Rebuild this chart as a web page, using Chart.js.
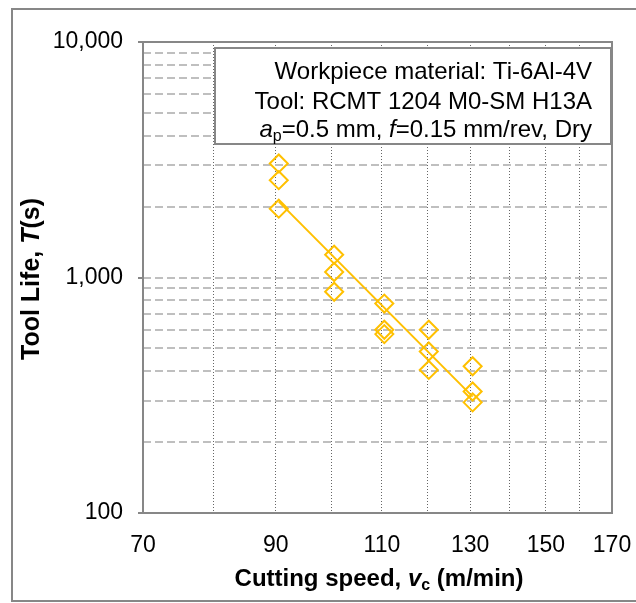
<!DOCTYPE html>
<html>
<head>
<meta charset="utf-8">
<script src="https://cdn.jsdelivr.net/npm/chart.js@4.4.0/dist/chart.umd.min.js"></script>
<style>
  html, body { margin: 0; padding: 0; background: #fff; }
</style>
</head>
<body>
<canvas id="tool-life-chart" width="636" height="603"></canvas>
<script>
// measured tool life T (s) against cutting speed vc (m/min)
const speeds = [90.5, 90.5, 90.5, 100.5, 100.5, 100.5, 110.5, 110.5, 110.5, 120.2, 120.2, 120.2, 130.6, 130.6, 130.6];
const toolLife = [3050, 2590, 1960, 1250, 1055, 870, 775, 600, 575, 600, 485, 405, 420, 328, 295];

// power-law trend line, end points
const trendSpeeds = [90.5, 130.6];
const trendLife = [2100, 312];

const xGridValues = [70, 80, 90, 100, 110, 120, 130, 140, 150, 160, 170];
const xTickLabels = [70, 90, 110, 130, 150, 170];
const yGridValues = [100, 200, 300, 400, 500, 600, 700, 800, 900,
	1000, 2000, 3000, 4000, 5000, 6000, 7000, 8000, 9000, 10000];
const yTickLabels = [100, 1000, 10000];

const FONT = "'Liberation Sans', Arial, sans-serif";
const GOLD = '#FFC000';
const AXIS_GREY = '#878787';

function drawRuns(ctx, runs, x, y, align) {
	let total = 0;
	runs.forEach(r => { ctx.font = r.font; total += ctx.measureText(r.text).width; });
	let cx = align === 'right' ? x - total : (align === 'center' ? x - total / 2 : x);
	runs.forEach(r => {
		ctx.font = r.font;
		ctx.fillText(r.text, cx, y + (r.dy || 0));
		cx += ctx.measureText(r.text).width;
	});
}

const decorations = {
	id: 'decorations',
	beforeDraw(chart) {
		const ctx = chart.ctx;
		ctx.save();
		ctx.fillStyle = '#fff';
		ctx.fillRect(0, 0, chart.width, chart.height);
		ctx.strokeStyle = AXIS_GREY;
		ctx.lineWidth = 2;
		ctx.strokeRect(12, 9, 700, 592);
		ctx.restore();
	},
	beforeDatasetsDraw(chart) {
		const ctx = chart.ctx;
		const a = chart.chartArea;
		ctx.save();
		ctx.strokeStyle = AXIS_GREY;
		ctx.lineWidth = 2;
		ctx.strokeRect(a.left, a.top, a.right - a.left, a.bottom - a.top);
		ctx.restore();
	},
	afterDraw(chart) {
		const ctx = chart.ctx;
		ctx.save();
		// note box
		ctx.fillStyle = '#fff';
		ctx.fillRect(215, 48, 396, 96);
		ctx.strokeStyle = AXIS_GREY;
		ctx.lineWidth = 2;
		ctx.strokeRect(215, 48, 396, 96);

		ctx.fillStyle = '#000';
		ctx.textAlign = 'left';
		ctx.textBaseline = 'alphabetic';
		const n = '24px ' + FONT, it = 'italic 24px ' + FONT, sub = '16px ' + FONT;
		drawRuns(ctx, [{ text: 'Workpiece material: Ti-6Al-4V', font: n }], 592, 79, 'right');
		drawRuns(ctx, [{ text: 'Tool: RCMT 1204 M0-SM H13A', font: n }], 592, 109, 'right');
		drawRuns(ctx, [
			{ text: 'a', font: it },
			{ text: 'p', font: sub, dy: 4 },
			{ text: '=0.5 mm, ', font: n },
			{ text: 'f', font: it },
			{ text: '=0.15 mm/rev, Dry', font: n }
		], 592, 137, 'right');

		// axis titles
		const b = 'bold 24px ' + FONT, bi = 'italic bold 24px ' + FONT, bs = 'bold 16px ' + FONT;
		drawRuns(ctx, [
			{ text: 'Cutting speed, ', font: b },
			{ text: 'v', font: bi },
			{ text: 'c', font: bs, dy: 4 },
			{ text: ' (m/min)', font: b }
		], 379, 586, 'center');

		const b2 = 'bold 25px ' + FONT, bi2 = 'italic bold 25px ' + FONT;
		ctx.translate(39, 279);
		ctx.rotate(-Math.PI / 2);
		drawRuns(ctx, [
			{ text: 'Tool Life, ', font: b2 },
			{ text: 'T', font: bi2 },
			{ text: '(s)', font: b2 }
		], 0, 0, 'center');
		ctx.restore();
	}
};

const chart = new Chart(document.getElementById('tool-life-chart'), {
	type: 'scatter',
	data: {
		datasets: [{
			label: 'Measured',
			data: speeds.map((v, i) => ({ x: v, y: toolLife[i] })),
			pointStyle: 'rectRot',
			pointRadius: 9,
			pointBorderWidth: 2,
			borderColor: GOLD,
			backgroundColor: 'rgba(0,0,0,0)',
			showLine: false
		}, {
			label: 'Trend',
			data: trendSpeeds.map((v, i) => ({ x: v, y: trendLife[i] })),
			showLine: true,
			pointRadius: 0,
			borderColor: GOLD,
			borderWidth: 2
		}]
	},
	options: {
		responsive: false,
		animation: false,
		devicePixelRatio: 1,
		layout: { padding: { top: 42, right: 24, left: 0, bottom: 0 } },
		plugins: { legend: { display: false }, tooltip: { enabled: false } },
		scales: {
			x: {
				type: 'logarithmic',
				min: 70,
				max: 170,
				afterBuildTicks: s => { s.ticks = xGridValues.map(v => ({ value: v })); },
				afterFit: s => { s.height = 90; s.paddingLeft = 0; s.paddingRight = 0; },
				grid: { color: '#666666', lineWidth: 1, drawTicks: false },
				border: { display: false, dash: [1, 2] },
				ticks: {
					autoSkip: false,
					maxRotation: 0,
					padding: 19,
					color: '#000',
					font: { family: FONT, size: 23 },
					callback: v => xTickLabels.includes(v) ? String(v) : ''
				}
			},
			y: {
				type: 'logarithmic',
				min: 100,
				max: 10000,
				afterBuildTicks: s => { s.ticks = yGridValues.map(v => ({ value: v })); },
				afterFit: s => { s.width = 143; },
				grid: {
					color: '#bfbfbf',
					lineWidth: 2,
					drawTicks: true,
					tickLength: 5,
					tickWidth: 2,
					tickColor: c => yTickLabels.includes(c.tick && c.tick.value) ? AXIS_GREY : 'rgba(0,0,0,0)'
				},
				border: { display: false, dash: [8, 4] },
				ticks: {
					autoSkip: false,
					padding: 15,
					color: '#000',
					font: { family: FONT, size: 23 },
					callback: v => yTickLabels.includes(v) ? v.toLocaleString('en-US') : ''
				}
			}
		}
	},
	plugins: [decorations]
});
</script>
</body>
</html>
